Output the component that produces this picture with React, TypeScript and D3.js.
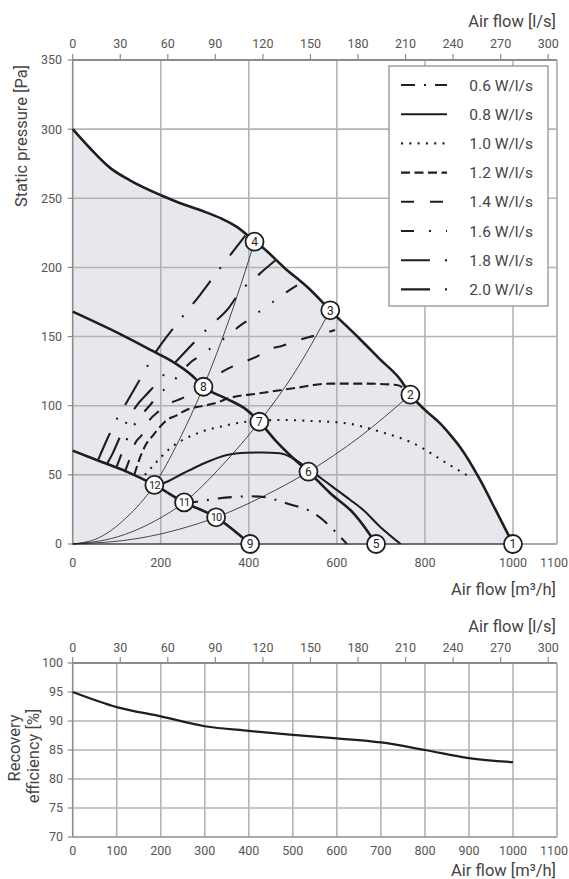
import React from 'react';
import * as d3 from 'd3';

type P = [number, number];

// ---- axes ----
const flowTicksTop: number[] = [0, 200, 400, 600, 800, 1000, 1100];
const flowTicksEff: number[] = [0, 100, 200, 300, 400, 500, 600, 700, 800, 900, 1000, 1100];
const lsTicks: number[] = [0, 30, 60, 90, 120, 150, 180, 210, 240, 270, 300];
const pressureTicks: number[] = [0, 50, 100, 150, 200, 250, 300, 350];
const effTicks: number[] = [70, 75, 80, 85, 90, 95, 100];

// ---- fan curves (m3/h, Pa) ----
const fanMax: P[] = [[0, 300], [40, 286], [85, 272], [130, 263], [202, 252], [236, 247.5], [289, 241.5], [340, 235], [372, 229.5], [413, 219], [433, 214], [480, 200], [539, 184], [585, 169], [650, 149], [700, 133], [744, 119], [767, 108], [800, 97], [835, 87], [860, 78], [880, 70], [926, 46], [960, 25], [1000, 0]];
const fanMid: P[] = [[0, 168], [100, 153], [191, 138], [221, 133], [274, 121], [297, 113.7], [350, 105], [395, 97], [424, 88.4], [463, 74], [501, 62], [535.5, 52.3], [585, 36.7], [638, 22.2], [668, 10], [689, 0]];
const fanMin: P[] = [[0, 67.5], [54.5, 60.7], [122.7, 52.3], [185.5, 42.7], [253, 30.1], [325.7, 19.3], [403, 0]];

// ---- system curves ----
const sysA: P[] = [[0, 0], [60, 4.6], [120, 18.5], [185.5, 42.7], [240, 74], [297, 113.7], [355, 162], [413, 218.6]];
const sysB: P[] = [[0, 0], [100, 5], [180, 15.5], [253, 30.1], [340, 57], [424, 88.4], [500, 122], [585, 169]];
const sysC: P[] = [[0, 0], [150, 4.1], [240, 10.5], [325.7, 19.3], [430, 34], [535.5, 52.3], [650, 77], [767, 108]];

// ---- SFP curves (W/l/s) ----
const sfp06: P[] = [[253, 30.1], [282, 30.6], [320, 32.5], [365, 34], [400, 34.5], [441, 33.7], [470, 31], [500, 28], [532, 25], [570, 17], [596, 9], [623, 0]];
const sfp08: P[] = [[185.5, 42.7], [206, 44], [250, 51], [289, 57], [350, 64.4], [395, 66], [430, 66.2], [471, 65.6], [500, 62], [528, 56], [560, 48.5], [592, 41], [630, 32], [660, 24.6], [698, 12.5], [745, 0]];
const sfp10: P[] = [[164, 50], [191, 59.5], [217, 68], [248, 75], [274, 78.8], [300, 82], [335, 84.8], [395, 88.4], [471, 89.7], [540, 89], [622, 87.3], [698, 81.2], [774, 72.8], [850, 58.3], [907, 47.5]];
const sfp12: P[] = [[140, 50], [150, 60], [168, 72.8], [180, 77.6], [191, 82], [202, 86], [214, 89.7], [236, 93], [251, 95.7], [267, 98], [282, 99], [335, 103], [350, 105], [425, 109], [501, 112.6], [585, 116], [660, 116], [736, 115], [755, 112]];
const sfp14: P[] = [[118, 52], [130, 62], [141.6, 72.8], [156.8, 78.8], [172, 88.4], [194.5, 95.7], [221, 101.7], [248, 105.3], [297, 114], [327, 122], [354, 127], [392, 132], [418, 135.5], [452, 141.5], [475, 143.2], [507.5, 147], [535.5, 149.5], [569.5, 152.3], [596, 154.7]];
const sfp16: P[] = [[100, 56], [112, 66], [121, 74], [138, 85], [153, 92], [176, 100.5], [198, 109], [221, 115], [244, 123.4], [270, 132], [293, 136.7], [321, 143.4], [353.6, 151], [372.6, 156], [403, 163], [432, 170], [454.5, 175], [485, 182], [520, 189]];
const sfp18: P[] = [[78, 58], [90, 65], [104, 75], [125, 90], [150, 102], [176, 111], [217, 126], [244, 135], [263, 141.5], [312, 157.6], [353.6, 170.4], [378.6, 181.7], [425.7, 195.7], [460, 205]];
const sfp20: P[] = [[58, 61], [80, 77], [98, 89], [119, 100.5], [149, 117], [187, 138], [246, 163], [289, 180], [329, 197], [392, 223]];

const sfpLabels: string[] = ['0.6 W/l/s', '0.8 W/l/s', '1.0 W/l/s', '1.2 W/l/s', '1.4 W/l/s', '1.6 W/l/s', '1.8 W/l/s', '2.0 W/l/s'];

// ---- operating points ----
const pointIds: number[] = [1, 2, 3, 4, 5, 6, 7, 8, 9, 10, 11, 12];
const pointQ: number[] = [1000, 767, 585, 413, 689, 535.5, 424, 297, 403, 325.7, 253, 185.5];
const pointP: number[] = [0, 108, 169, 218.6, 0, 52.3, 88.4, 113.7, 0, 19.3, 30.1, 42.7];

// ---- recovery efficiency ----
const effQ: number[] = [0, 100, 200, 300, 400, 500, 600, 700, 800, 900, 1000];
const effV: number[] = [95, 92.4, 90.8, 89.1, 88.3, 87.6, 87.0, 86.3, 85.0, 83.6, 82.9];

const FONT = 'Roboto, "Noto Sans", sans-serif';
const GRID = '#b3b3b3';
const FRAME = '#8c8c8c';
const TXT = '#555';
const INK = '#1e1e1e';

const dashes: string[] = ['14 9 2 9', 'none', '2 6.3', '9 4.5', '13 16', '13 15 2 15 2 15', '29 15 2 15', '29 15 2 15'];

export default function App() {
  const x = d3.scaleLinear().domain([0, 1100]).range([72.7, 557]);
  const y = d3.scaleLinear().domain([0, 350]).range([544, 60]);
  const xls = d3.scaleLinear().domain([0, 300]).range([x(0), x(1080)]);
  const yb = d3.scaleLinear().domain([70, 100]).range([837, 663]);

  const lineT = d3.line<P>().x(d => x(d[0])).y(d => y(d[1])).curve(d3.curveMonotoneX);
  const areaT = d3.area<P>().x(d => x(d[0])).y0(y(0)).y1(d => y(d[1])).curve(d3.curveMonotoneX);
  const effData: P[] = effQ.map((q, i) => [q, effV[i]]);
  const lineB = d3.line<P>().x(d => x(d[0])).y(d => yb(d[1])).curve(d3.curveMonotoneX);

  const sfpCurves: P[][] = [sfp06, sfp08, sfp10, sfp12, sfp14, sfp16, sfp18, sfp20];

  const [tx0, tx1] = x.range();
  const [ty0, ty1] = y.range();
  const [by0, by1] = yb.range();

  // keep the last flow label inside the page
  const flowLabelX = (t: number) => (t === 1100 ? 568 : x(t));
  const flowLabelAnchor = (t: number) => (t === 1100 ? 'end' : 'middle');

  return (
    <svg width={569} height={879} style={{ position: 'absolute', left: 0, top: 0, background: '#fff' }} fontFamily={FONT}>
      {/* ============ TOP CHART ============ */}
      <path d={areaT(fanMax) || ''} fill="#e6e8ed" />
      {flowTicksTop.filter(t => t > 0 && t < 1100).map(t => (
        <line key={'vg' + t} x1={x(t)} x2={x(t)} y1={ty0} y2={ty1} stroke={GRID} strokeWidth={1.6} />
      ))}
      {pressureTicks.filter(t => t > 0 && t < 350).map(t => (
        <line key={'hg' + t} x1={tx0} x2={tx1} y1={y(t)} y2={y(t)} stroke={GRID} strokeWidth={1.6} />
      ))}
      <line x1={tx0} x2={tx1} y1={ty1} y2={ty1} stroke={FRAME} strokeWidth={2} />
      <line x1={tx0} x2={tx1} y1={ty0} y2={ty0} stroke={FRAME} strokeWidth={1.6} />
      <line x1={tx0} x2={tx0} y1={ty0} y2={ty1} stroke={FRAME} strokeWidth={1.6} />
      <line x1={tx1} x2={tx1} y1={ty0} y2={ty1} stroke={GRID} strokeWidth={1.8} />
      {lsTicks.map(t => (
        <g key={'lt' + t}>
          <line x1={xls(t)} x2={xls(t)} y1={ty1 - 6} y2={ty1} stroke={FRAME} strokeWidth={1.2} />
          <text x={xls(t)} y={48} fontSize={12.5} fill={TXT} textAnchor="middle">{t}</text>
        </g>
      ))}
      <text x={556} y={27} fontSize={16.5} fill="#444" textAnchor="end">Air flow [l/s]</text>
      {pressureTicks.map(t => (
        <g key={'pt' + t}>
          <line x1={tx0 - 5} x2={tx0} y1={y(t)} y2={y(t)} stroke={FRAME} strokeWidth={1.2} />
          <text x={62} y={y(t)} dy="0.35em" fontSize={12.5} fill={TXT} textAnchor="end">{t}</text>
        </g>
      ))}
      <text transform={`translate(27,${136}) rotate(-90)`} fontSize={16.5} fill="#444" textAnchor="middle">Static pressure [Pa]</text>
      {flowTicksTop.map(t => (
        <text key={'bt' + t} x={flowLabelX(t)} y={567} fontSize={12.5} fill={TXT} textAnchor={flowLabelAnchor(t)}>{t}</text>
      ))}
      <text x={556} y={595} fontSize={16.5} fill="#444" textAnchor="end">Air flow [m³/h]</text>

      {[sysA, sysB, sysC].map((c, i) => (
        <path key={'sys' + i} d={lineT(c) || ''} fill="none" stroke={INK} strokeWidth={0.8} />
      ))}
      <line x1={x(0)} x2={x(1000)} y1={y(0)} y2={y(0)} stroke={INK} strokeWidth={0.8} />

      {sfpCurves.map((c, i) => (
        <path key={'sfp' + i} d={lineT(c) || ''} fill="none" stroke={INK} strokeWidth={2.1}
          strokeDasharray={dashes[i] === 'none' ? undefined : dashes[i]} />
      ))}

      {[fanMax, fanMid, fanMin].map((c, i) => (
        <path key={'fan' + i} d={lineT(c) || ''} fill="none" stroke={INK} strokeWidth={2.6} strokeLinejoin="round" />
      ))}

      {pointIds.map((id, i) => (
        <g key={'op' + id} transform={`translate(${x(pointQ[i])},${y(pointP[i])})`}>
          <circle r={9} fill="#fff" stroke={INK} strokeWidth={1.8} />
          <text dy="0.36em" fontSize={id > 9 ? 11 : 12} fill={INK} textAnchor="middle" letterSpacing={id > 9 ? -0.8 : 0}>{id}</text>
        </g>
      ))}

      <rect x={389} y={66} width={159} height={240} fill="#fff" stroke="#9a9a9a" strokeWidth={1.4} />
      {sfpLabels.map((lab, i) => {
        const ly = 85 + i * 29.2;
        return (
          <g key={'lg' + i}>
            <line x1={401} x2={447} y1={ly} y2={ly} stroke={INK} strokeWidth={2.1}
              strokeDasharray={dashes[i] === 'none' ? undefined : dashes[i]} />
            <text x={533} y={ly} dy="0.36em" fontSize={15.5} fill="#444" textAnchor="end">{lab}</text>
          </g>
        );
      })}

      {/* ============ BOTTOM CHART ============ */}
      {flowTicksEff.filter(t => t > 0 && t < 1100).map(t => (
        <line key={'bvg' + t} x1={x(t)} x2={x(t)} y1={by0} y2={by1} stroke={GRID} strokeWidth={1.6} />
      ))}
      {effTicks.filter(t => t > 70 && t < 100).map(t => (
        <line key={'bhg' + t} x1={tx0} x2={tx1} y1={yb(t)} y2={yb(t)} stroke={GRID} strokeWidth={1.6} />
      ))}
      <line x1={tx0} x2={tx1} y1={by1} y2={by1} stroke={FRAME} strokeWidth={2} />
      <line x1={tx0} x2={tx1} y1={by0} y2={by0} stroke={FRAME} strokeWidth={1.6} />
      <line x1={tx0} x2={tx0} y1={by0} y2={by1} stroke={FRAME} strokeWidth={1.6} />
      <line x1={tx1} x2={tx1} y1={by0} y2={by1} stroke={GRID} strokeWidth={1.8} />
      {lsTicks.map(t => (
        <g key={'blt' + t}>
          <line x1={xls(t)} x2={xls(t)} y1={by1 - 6} y2={by1} stroke={FRAME} strokeWidth={1.2} />
          <text x={xls(t)} y={652} fontSize={12.5} fill={TXT} textAnchor="middle">{t}</text>
        </g>
      ))}
      <text x={556} y={632} fontSize={16.5} fill="#444" textAnchor="end">Air flow [l/s]</text>
      {effTicks.map(t => (
        <g key={'et' + t}>
          <line x1={tx0 - 5} x2={tx0} y1={yb(t)} y2={yb(t)} stroke={FRAME} strokeWidth={1.2} />
          <text x={63} y={yb(t)} dy="0.35em" fontSize={12.5} fill={TXT} textAnchor="end">{t}</text>
        </g>
      ))}
      {flowTicksEff.map(t => (
        <text key={'ebt' + t} x={flowLabelX(t)} y={855} fontSize={12.5} fill={TXT} textAnchor={flowLabelAnchor(t)}>{t}</text>
      ))}
      <text x={556} y={876} fontSize={16.5} fill="#444" textAnchor="end">Air flow [m³/h]</text>
      <text transform={`translate(20,${748}) rotate(-90)`} fontSize={16.5} fill="#444" textAnchor="middle">Recovery</text>
      <text transform={`translate(39,${756}) rotate(-90)`} fontSize={16.5} fill="#444" textAnchor="middle">efficiency [%]</text>
      <path d={lineB(effData) || ''} fill="none" stroke={INK} strokeWidth={2.2} />
    </svg>
  );
}
